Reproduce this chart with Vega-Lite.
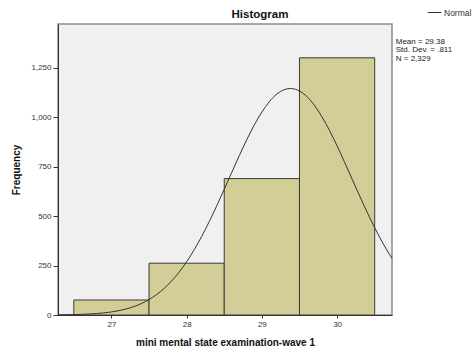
{
  "$schema": "https://vega.github.io/schema/vega-lite/v6.json",
  "autosize": "none",
  "width": 334,
  "height": 291,
  "padding": {"left": 58, "top": 24, "right": 83, "bottom": 41},
  "background": "white",
  "config": {
    "font": "Liberation Sans",
    "view": {"fill": "#f0f0f0", "stroke": "#8a8a8a", "strokeWidth": 1.5},
    "axis": {"grid": false, "labelFont": "Liberation Sans", "labelFontSize": 8, "labelColor": "#333", "tickColor": "#333", "domainColor": "#333", "titleFont": "Liberation Sans", "titleFontWeight": "bold", "titleFontSize": 10, "titleColor": "#111"}
  },
  "title": {"text": "Histogram", "font": "Liberation Sans", "fontSize": 11.5, "fontWeight": "bold", "color": "#111", "anchor": "middle", "frame": "group", "dx": 35, "dy": 21, "offset": 6},
  "datasets": {
    "bins": [
      {"score": 27, "frequency": 76},
      {"score": 28, "frequency": 262},
      {"score": 29, "frequency": 690},
      {"score": 30, "frequency": 1301}
    ],
    "curve": [
      {"x": 26.29, "y": 0.8}, {"x": 26.4, "y": 1.3}, {"x": 26.5, "y": 2.1}, {"x": 26.6, "y": 3.2},
      {"x": 26.7, "y": 4.9}, {"x": 26.8, "y": 7.3}, {"x": 26.9, "y": 10.7}, {"x": 27.0, "y": 15.5},
      {"x": 27.1, "y": 22.0}, {"x": 27.2, "y": 30.9}, {"x": 27.3, "y": 42.7}, {"x": 27.4, "y": 58.2},
      {"x": 27.5, "y": 78.0}, {"x": 27.6, "y": 103.0}, {"x": 27.7, "y": 134.0}, {"x": 27.8, "y": 171.7},
      {"x": 27.9, "y": 216.8}, {"x": 28.0, "y": 269.4}, {"x": 28.1, "y": 329.6}, {"x": 28.2, "y": 397.6},
      {"x": 28.3, "y": 472.1}, {"x": 28.4, "y": 552.1}, {"x": 28.5, "y": 635.9}, {"x": 28.6, "y": 721.4},
      {"x": 28.7, "y": 806.1}, {"x": 28.8, "y": 887.2}, {"x": 28.9, "y": 961.6}, {"x": 29.0, "y": 1026.6},
      {"x": 29.1, "y": 1079.4}, {"x": 29.2, "y": 1117.9}, {"x": 29.3, "y": 1140.1}, {"x": 29.38, "y": 1145.7},
      {"x": 29.4, "y": 1145.3}, {"x": 29.5, "y": 1133.2}, {"x": 29.6, "y": 1104.3}, {"x": 29.7, "y": 1059.9},
      {"x": 29.8, "y": 1001.9}, {"x": 29.9, "y": 932.8}, {"x": 30.0, "y": 855.4}, {"x": 30.1, "y": 772.5},
      {"x": 30.2, "y": 687.2}, {"x": 30.3, "y": 602.1}, {"x": 30.4, "y": 519.5}, {"x": 30.5, "y": 441.4},
      {"x": 30.6, "y": 369.6}, {"x": 30.7, "y": 304.6}, {"x": 30.73, "y": 286.6}
    ],
    "stats": [{"label": "Mean = 29.38\nStd. Dev. = .811\nN = 2,329"}]
  },
  "layer": [
    {
      "data": {"name": "bins"},
      "transform": [
        {"calculate": "datum.score - 0.5", "as": "lo"},
        {"calculate": "datum.score + 0.5", "as": "hi"}
      ],
      "mark": {"type": "rect", "fill": "#d3ce98", "stroke": "#3a3a3a", "strokeWidth": 1},
      "encoding": {
        "x": {"field": "lo", "type": "quantitative", "scale": {"domain": [26.29, 30.73], "nice": false, "zero": false},
              "axis": {"values": [27, 28, 29, 30], "format": "d", "title": "mini mental state examination-wave 1", "tickSize": 3, "labelPadding": 2, "titlePadding": 9, "domainWidth": 1}},
        "x2": {"field": "hi"},
        "y": {"field": "frequency", "type": "quantitative", "scale": {"domain": [0, 1472], "nice": false},
              "axis": {"values": [0, 250, 500, 750, 1000, 1250], "format": ",d", "title": "Frequency", "tickSize": 5, "labelPadding": 2, "titlePadding": 9}},
        "y2": {"datum": 0}
      }
    },
    {
      "data": {"name": "curve"},
      "mark": {"type": "line", "strokeWidth": 1, "interpolate": "monotone"},
      "encoding": {
        "x": {"field": "x", "type": "quantitative", "axis": {"values": [27, 28, 29, 30], "format": "d", "title": "mini mental state examination-wave 1", "tickSize": 3, "labelPadding": 2, "titlePadding": 9, "domainWidth": 1}},
        "y": {"field": "y", "type": "quantitative", "axis": {"values": [0, 250, 500, 750, 1000, 1250], "format": ",d", "title": "Frequency", "tickSize": 5, "labelPadding": 2, "titlePadding": 9}},
        "stroke": {"datum": "Normal", "type": "nominal", "scale": {"range": ["#333333"]},
                   "legend": {"title": null, "orient": "none", "legendX": 369, "legendY": -19, "labelFont": "Liberation Sans", "labelFontSize": 8.5, "labelColor": "#333", "symbolSize": 180, "symbolStrokeWidth": 1, "labelOffset": 2, "padding": 0}}
      }
    },
    {
      "data": {"name": "stats"},
      "mark": {"type": "text", "align": "left", "baseline": "top", "lineBreak": "\n", "fontSize": 8, "color": "#222", "clip": false, "lineHeight": 8.5},
      "encoding": {
        "x": {"datum": 30.78, "type": "quantitative", "axis": {"values": [27, 28, 29, 30], "format": "d", "title": "mini mental state examination-wave 1", "tickSize": 3, "labelPadding": 2, "titlePadding": 9, "domainWidth": 1}},
        "y": {"datum": 1402, "type": "quantitative", "axis": {"values": [0, 250, 500, 750, 1000, 1250], "format": ",d", "title": "Frequency", "tickSize": 5, "labelPadding": 2, "titlePadding": 9}},
        "text": {"field": "label"}
      }
    }
  ]
}
